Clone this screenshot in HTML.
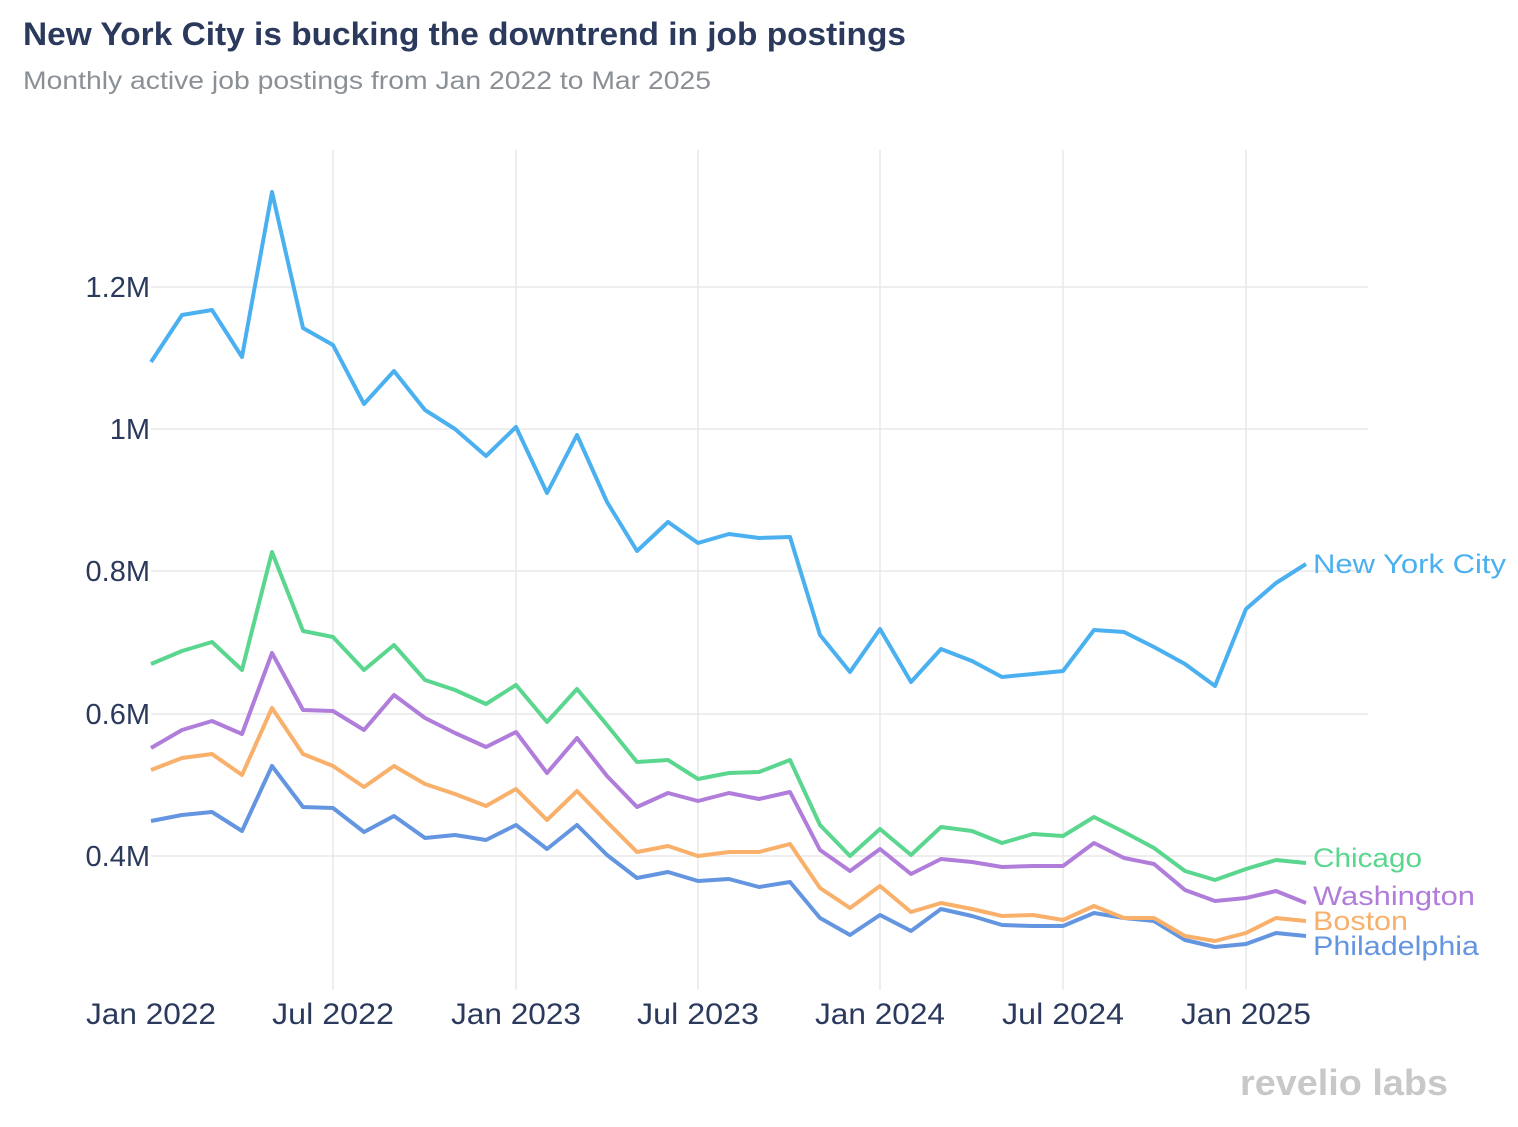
<!DOCTYPE html>
<html><head><meta charset="utf-8"><style>
body{margin:0;background:#fff;font-family:"Liberation Sans",Arial,sans-serif;}
</style></head><body>
<svg width="1518" height="1122" xmlns="http://www.w3.org/2000/svg" font-family="Liberation Sans, Arial, sans-serif">
<text x="23" y="45" font-size="32" font-weight="bold" fill="#2b3a5c" textLength="883" lengthAdjust="spacingAndGlyphs">New York City is bucking the downtrend in job postings</text>
<text x="23" y="89" font-size="25" fill="#8a9096" textLength="688" lengthAdjust="spacingAndGlyphs">Monthly active job postings from Jan 2022 to Mar 2025</text>
<g stroke="#e8e8e8" stroke-width="1.5">
<line x1="151" y1="287" x2="1368" y2="287"/><line x1="151" y1="429" x2="1368" y2="429"/>
<line x1="151" y1="571" x2="1368" y2="571"/><line x1="151" y1="714" x2="1368" y2="714"/>
<line x1="151" y1="856" x2="1368" y2="856"/>
<line x1="333" y1="150" x2="333" y2="990"/><line x1="516" y1="150" x2="516" y2="990"/>
<line x1="698" y1="150" x2="698" y2="990"/><line x1="880" y1="150" x2="880" y2="990"/>
<line x1="1063" y1="150" x2="1063" y2="990"/><line x1="1246" y1="150" x2="1246" y2="990"/>
</g>
<g font-size="29" fill="#2b3a5c" text-anchor="end">
<text x="150" y="297">1.2M</text><text x="150" y="439">1M</text><text x="150" y="581">0.8M</text><text x="150" y="724">0.6M</text><text x="150" y="866">0.4M</text>
</g>
<g font-size="30" fill="#2b3a5c" text-anchor="middle">
<text x="151" y="1024" textLength="130" lengthAdjust="spacingAndGlyphs">Jan 2022</text><text x="333" y="1024" textLength="122" lengthAdjust="spacingAndGlyphs">Jul 2022</text><text x="516" y="1024" textLength="130" lengthAdjust="spacingAndGlyphs">Jan 2023</text><text x="698" y="1024" textLength="122" lengthAdjust="spacingAndGlyphs">Jul 2023</text><text x="880" y="1024" textLength="130" lengthAdjust="spacingAndGlyphs">Jan 2024</text><text x="1063" y="1024" textLength="122" lengthAdjust="spacingAndGlyphs">Jul 2024</text><text x="1246" y="1024" textLength="130" lengthAdjust="spacingAndGlyphs">Jan 2025</text>
</g>
<g fill="none" stroke-width="4" stroke-linejoin="round">
<polyline stroke="#6495e0" points="151,821 182,815 212,812 242,831 272,766 303,807 333,808 364,832 394,816 425,838 455,835 486,840 516,825 547,849 577,825 607,855 637,878 668,872 698,881 729,879 759,887 790,882 820,918 850,935 880,915 911,931 941,909 972,916 1002,925 1033,926 1063,926 1094,913 1124,918 1154,921 1185,940 1215,947 1246,944 1276,933 1306,936"/>
<polyline stroke="#f8b06b" points="151,770 182,758 212,754 242,775 272,708 303,754 333,766 364,787 394,766 425,784 455,794 486,806 516,789 547,820 577,791 607,822 637,852 668,846 698,856 729,852 759,852 790,844 820,888 850,908 880,886 911,912 941,903 972,909 1002,916 1033,915 1063,920 1094,906 1124,918 1154,918 1185,936 1215,941 1246,933 1276,918 1306,921"/>
<polyline stroke="#b07ddb" points="151,748 182,730 212,721 242,734 272,653 303,710 333,711 364,730 394,695 425,718 455,733 486,747 516,732 547,773 577,738 607,776 637,807 668,793 698,801 729,793 759,799 790,792 820,850 850,871 880,849 911,874 941,859 972,862 1002,867 1033,866 1063,866 1094,843 1124,858 1154,864 1185,890 1215,901 1246,898 1276,891 1306,903"/>
<polyline stroke="#5ad68e" points="151,664 182,651 212,642 242,670 272,552 303,631 333,637 364,670 394,645 425,680 455,690 486,704 516,685 547,722 577,689 607,725 637,762 668,760 698,779 729,773 759,772 790,760 820,825 850,856 880,829 911,855 941,827 972,831 1002,843 1033,834 1063,836 1094,817 1124,832 1154,848 1185,871 1215,880 1246,869 1276,860 1306,863"/>
<polyline stroke="#4bb0f0" points="151,362 182,315 212,310 242,357 272,192 303,328 333,345 364,404 394,371 425,410 455,429 486,456 516,427 547,493 577,435 607,502 637,551 668,522 698,543 729,534 759,538 790,537 820,635 850,672 880,629 911,682 941,649 972,661 1002,677 1033,674 1063,671 1094,630 1124,632 1154,647 1185,664 1215,686 1246,609 1276,583 1306,564"/>
</g>
<g font-size="27">
<text x="1313" y="573" fill="#4bb0f0" textLength="193" lengthAdjust="spacingAndGlyphs">New York City</text>
<text x="1313" y="867" fill="#5ad68e" textLength="109" lengthAdjust="spacingAndGlyphs">Chicago</text>
<text x="1313" y="905" fill="#b07ddb" textLength="162" lengthAdjust="spacingAndGlyphs">Washington</text>
<text x="1313" y="930" fill="#f8b06b" textLength="95" lengthAdjust="spacingAndGlyphs">Boston</text>
<text x="1313" y="955" fill="#6495e0" textLength="166" lengthAdjust="spacingAndGlyphs">Philadelphia</text>
</g>
<text x="1448" y="1095" font-size="36" font-weight="bold" fill="#c8c8c8" text-anchor="end" textLength="208" lengthAdjust="spacingAndGlyphs">revelio labs</text>
</svg>
</body></html>
